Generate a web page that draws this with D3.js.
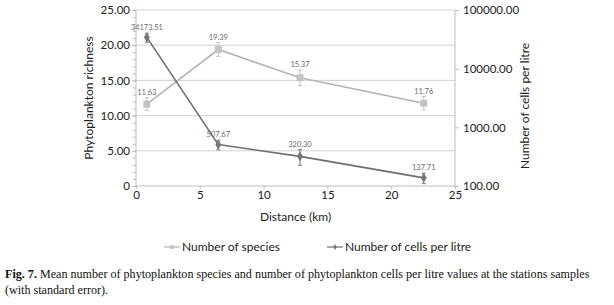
<!DOCTYPE html>
<html>
<head>
<meta charset="utf-8">
<script src="https://cdn.jsdelivr.net/npm/d3@7"></script>
<style>
  body { margin: 0; background: #fff; }
  svg { display: block; }
  .axis text { font-family: Lato, "Noto Sans", sans-serif; font-size: 11.5px; fill: #222; }
  .axis path, .axis line { stroke: #bdbdbd; }
  .axis-title { font-family: Lato, "Noto Sans", sans-serif; font-size: 12px; fill: #222; }
  .val-label { font-family: Lato, "Noto Sans", sans-serif; font-size: 7.5px; fill: #6a6a6a; text-anchor: middle; }
  .caption { font-family: "Liberation Serif", "Times New Roman", serif; font-size: 12.1px; fill: #111; }
</style>
</head>
<body>
<svg id="chart"></svg>
<script>
// data
const distance = [0.85, 6.45, 12.85, 22.55];
const species = [11.63, 19.39, 15.37, 11.76];
const speciesSE = [0.92, 0.98, 1.1, 0.95];
const cells = [34173.51, 507.67, 320.30, 137.71];
const cellsSE = [6000, 95, 95, 28];
const xTicks = [0, 5, 10, 15, 20, 25];
const leftTicks = [0, 5, 10, 15, 20, 25];
const rightTicks = [100, 1000, 10000, 100000];

const width = 614, height = 305;
const margin = {top: 10, right: 159, bottom: 119, left: 136};
const w = width - margin.left - margin.right;
const h = height - margin.top - margin.bottom;

const svg = d3.select('#chart')
    .attr('width', width)
    .attr('height', height);

const chart = svg.append('g')
    .attr('transform', `translate(${margin.left},${margin.top})`);

// scales
const x = d3.scaleLinear().domain([0, 25]).range([0, w]);
const yL = d3.scaleLinear().domain([0, 25]).range([h, 0]);
const yR = d3.scaleLog().domain([100, 100000]).range([h, 0]);

// gridlines
chart.append('g')
    .selectAll('line')
    .data(leftTicks.filter(d => d > 0))
    .join('line')
    .attr('x1', 0).attr('x2', w)
    .attr('y1', d => yL(d)).attr('y2', d => yL(d))
    .attr('stroke', '#d2d2d2');

// left axis, minor ticks then major
chart.append('g')
    .attr('class', 'axis')
    .call(d3.axisLeft(yL).tickValues(d3.range(0, 26, 1)).tickSize(3).tickFormat(''))
    .call(g => g.select('.domain').remove());

chart.append('g')
    .attr('class', 'axis')
    .call(d3.axisLeft(yL).tickValues(leftTicks).tickSize(4).tickPadding(2)
        .tickFormat(d => d === 0 ? '0' : d3.format('.2f')(d)))
    .call(g => g.select('.domain').attr('d', `M0,0V${h}`));

// right axis
chart.append('g')
    .attr('class', 'axis')
    .attr('transform', `translate(${w},0)`)
    .call(d3.axisRight(yR).tickValues(rightTicks).tickSize(4).tickPadding(4)
        .tickFormat(d3.format('.2f')))
    .call(g => g.select('.domain').attr('d', `M0,0V${h}`));

// x axis
chart.append('g')
    .attr('class', 'axis')
    .attr('transform', `translate(0,${h})`)
    .call(d3.axisBottom(x).tickValues(xTicks).tickSize(3).tickPadding(2))
    .call(g => g.select('.domain').attr('d', `M0,0H${w}`));

// axis titles
svg.append('text')
    .attr('class', 'axis-title')
    .attr('transform', `translate(93,${margin.top + h / 2}) rotate(-90)`)
    .attr('text-anchor', 'middle')
    .text('Phytoplankton richness');

svg.append('text')
    .attr('class', 'axis-title')
    .attr('transform', `translate(529,${margin.top + h / 2 + 8}) rotate(-90)`)
    .attr('text-anchor', 'middle')
    .text('Number of cells per litre');

svg.append('text')
    .attr('class', 'axis-title')
    .attr('x', margin.left + w / 2)
    .attr('y', 221)
    .attr('text-anchor', 'middle')
    .text('Distance (km)');

// series
const sp = distance.map((d, i) => ({x: d, y: species[i], se: speciesSE[i], label: d3.format('.2f')(species[i])}));
const ce = distance.map((d, i) => ({x: d, y: cells[i], se: cellsSE[i], label: d3.format('.2f')(cells[i])}));

function drawSeries(data, yScale, color, markerColor, shape, size) {
    const g = chart.append('g');
    g.append('path')
        .datum(data)
        .attr('fill', 'none')
        .attr('stroke', color)
        .attr('stroke-width', 1.6)
        .attr('d', d3.line().x(d => x(d.x)).y(d => yScale(d.y)));

    // error bars
    const eb = g.selectAll('.eb').data(data).join('g').attr('class', 'eb');
    eb.append('line')
        .attr('x1', d => x(d.x)).attr('x2', d => x(d.x))
        .attr('y1', d => yScale(d.y + d.se)).attr('y2', d => yScale(d.y - d.se))
        .attr('stroke', markerColor).attr('stroke-width', 1);
    eb.append('line')
        .attr('x1', d => x(d.x) - 2).attr('x2', d => x(d.x) + 2)
        .attr('y1', d => yScale(d.y + d.se)).attr('y2', d => yScale(d.y + d.se))
        .attr('stroke', markerColor);
    eb.append('line')
        .attr('x1', d => x(d.x) - 2).attr('x2', d => x(d.x) + 2)
        .attr('y1', d => yScale(d.y - d.se)).attr('y2', d => yScale(d.y - d.se))
        .attr('stroke', markerColor);

    g.selectAll('.mk').data(data).join('path')
        .attr('class', 'mk')
        .attr('transform', d => `translate(${x(d.x)},${yScale(d.y)})`)
        .attr('d', d3.symbol().type(shape).size(size))
        .attr('fill', markerColor);

    g.selectAll('.val-label').data(data).join('text')
        .attr('class', 'val-label')
        .attr('x', d => x(d.x))
        .attr('y', d => yScale(d.y + d.se) - 3)
        .text(d => d.label);
}

drawSeries(sp, yL, '#b4b4b4', '#c2c2c2', d3.symbolSquare, 48);
drawSeries(ce, yR, '#6e6e6e', '#787878', d3.symbolDiamond, 30);

// legend
const legendItems = [
    {name: 'Number of species', line: '#b4b4b4', color: '#c2c2c2', shape: d3.symbolSquare, size: 14, x: 164},
    {name: 'Number of cells per litre', line: '#6e6e6e', color: '#787878', shape: d3.symbolDiamond, size: 10, x: 327}
];
const lg = svg.append('g').attr('transform', 'translate(0,247)');
const li = lg.selectAll('g').data(legendItems).join('g')
    .attr('transform', d => `translate(${d.x},0)`);
li.append('line')
    .attr('x1', 0).attr('x2', 16)
    .attr('stroke', d => d.line).attr('stroke-width', 1.2);
li.append('path')
    .attr('transform', 'translate(8,0)')
    .attr('d', d => d3.symbol().type(d.shape).size(d.size)())
    .attr('fill', d => d.color);
li.append('text')
    .attr('class', 'axis-title')
    .attr('x', 18)
    .attr('dy', '0.35em')
    .text(d => d.name);

// caption
const cap = svg.append('text').attr('class', 'caption').attr('x', 5).attr('y', 278);
cap.append('tspan').attr('font-weight', 'bold').text('Fig. 7.');
cap.append('tspan').text(' Mean number of phytoplankton species and number of phytoplankton cells per litre values at the stations samples');
svg.append('text').attr('class', 'caption').attr('x', 5).attr('y', 294)
    .text('(with standard error).');
</script>
</body>
</html>
